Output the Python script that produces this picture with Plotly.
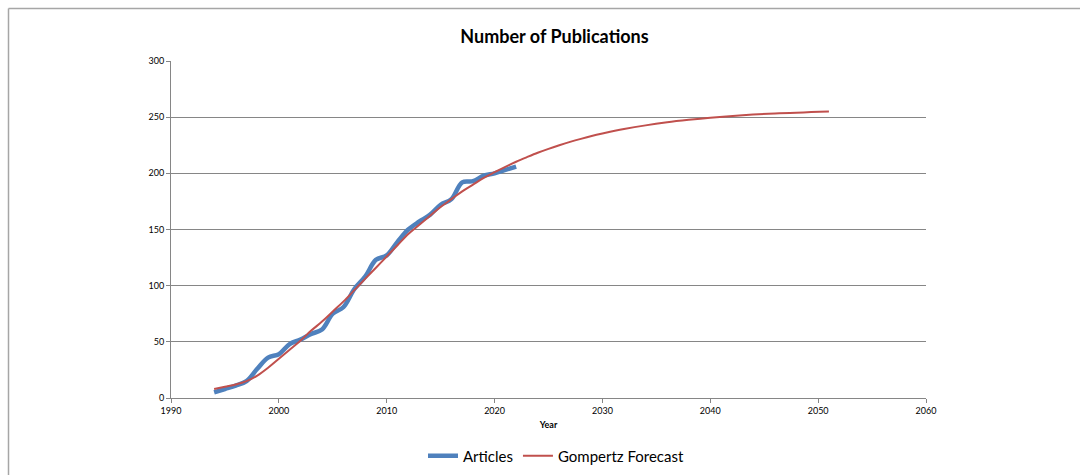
import plotly.graph_objects as go

# Observed publication counts (cumulative) per year
article_years = list(range(1994, 2023))
article_counts = [5, 8, 11, 15, 26, 36, 39, 48, 52, 57, 61, 75, 81, 97, 108,
                  123, 127, 139, 150, 157, 163, 172, 177, 192, 193, 198, 200, 203, 206]

# Gompertz forecast curve
forecast_years = list(range(1994, 2031)) + [2032, 2034, 2036, 2038, 2040, 2043, 2046, 2051]
forecast_counts = [8, 10, 12, 15, 20, 27, 35, 43, 51, 60, 68, 77, 86, 96, 106,
                   116, 126, 136, 146, 154, 162, 170, 177, 184, 190, 196, 201,
                   205.8, 210.3, 214.4, 218.3, 221.8, 225.0, 228.0, 230.7, 233.2, 235.4,
                   239.4, 242.7, 245.4, 247.6, 249.5, 251.7, 253.3, 255.1]

x_ticks = [1990, 2000, 2010, 2020, 2030, 2040, 2050, 2060]
y_ticks = [0, 50, 100, 150, 200, 250, 300]

FONT = "Lato"
W, H = 1080, 475
L, R, T, B = 171, 154, 61, 77
pw, ph = W - L - R, H - T - B


def px_x(p):
    return (p - L) / pw


def px_y(p):
    return (H - B - p) / ph


fig = go.Figure()
fig.add_trace(go.Scatter(
    x=article_years, y=article_counts, name="Articles", mode="lines",
    line=dict(color="#4F81BD", width=4.5, shape="spline", smoothing=1.0),
))
fig.add_trace(go.Scatter(
    x=forecast_years, y=forecast_counts, name="Gompertz Forecast", mode="lines",
    line=dict(color="#C0504D", width=2, shape="spline", smoothing=1.0),
))

# outer chart border (top and left edges)
fig.add_shape(type="line", xref="paper", yref="paper",
              x0=px_x(8.5), x1=px_x(W + 5), y0=px_y(8.5), y1=px_y(8.5),
              line=dict(color="#A6A6A6", width=1.5))
fig.add_shape(type="line", xref="paper", yref="paper",
              x0=px_x(8.5), x1=px_x(8.5), y0=px_y(8.5), y1=px_y(H + 5),
              line=dict(color="#A6A6A6", width=1.5))

fig.update_layout(
    width=W, height=H,
    margin=dict(l=L, r=R, t=T, b=B, autoexpand=False),
    paper_bgcolor="white", plot_bgcolor="white",
    font=dict(family=FONT, color="#000000"),
    title=dict(text="<b>Number of Publications</b>", x=554.5 / W, xref="container",
               xanchor="center", y=1 - 37 / H, yref="container", yanchor="middle",
               font=dict(size=18, family=FONT, color="#000000")),
    showlegend=True,
    legend=dict(orientation="h", x=556 / W, xref="container", xanchor="center",
                y=1 - 456 / H, yref="container", yanchor="middle",
                font=dict(size=15, family=FONT),
                itemwidth=30, bgcolor="rgba(0,0,0,0)"),
    xaxis=dict(
        range=[1990, 2060], tickvals=x_ticks, ticktext=[str(v) for v in x_ticks],
        showgrid=False, zeroline=False, showline=True, linecolor="#868686", linewidth=1,
        ticks="outside", ticklen=4, tickcolor="#868686", automargin=False,
        tickfont=dict(size=9, family=FONT),
        title=dict(text="<b>Year</b>", font=dict(size=9, family=FONT), standoff=6),
    ),
    yaxis=dict(
        range=[0, 300], tickvals=y_ticks, automargin=False,
        showgrid=True, gridcolor="#868686", gridwidth=1, zeroline=False,
        showline=True, linecolor="#868686", linewidth=1,
        ticks="outside", ticklen=4, tickcolor="#868686",
        tickfont=dict(size=9, family=FONT),
    ),
)

fig.write_html("out.html")
